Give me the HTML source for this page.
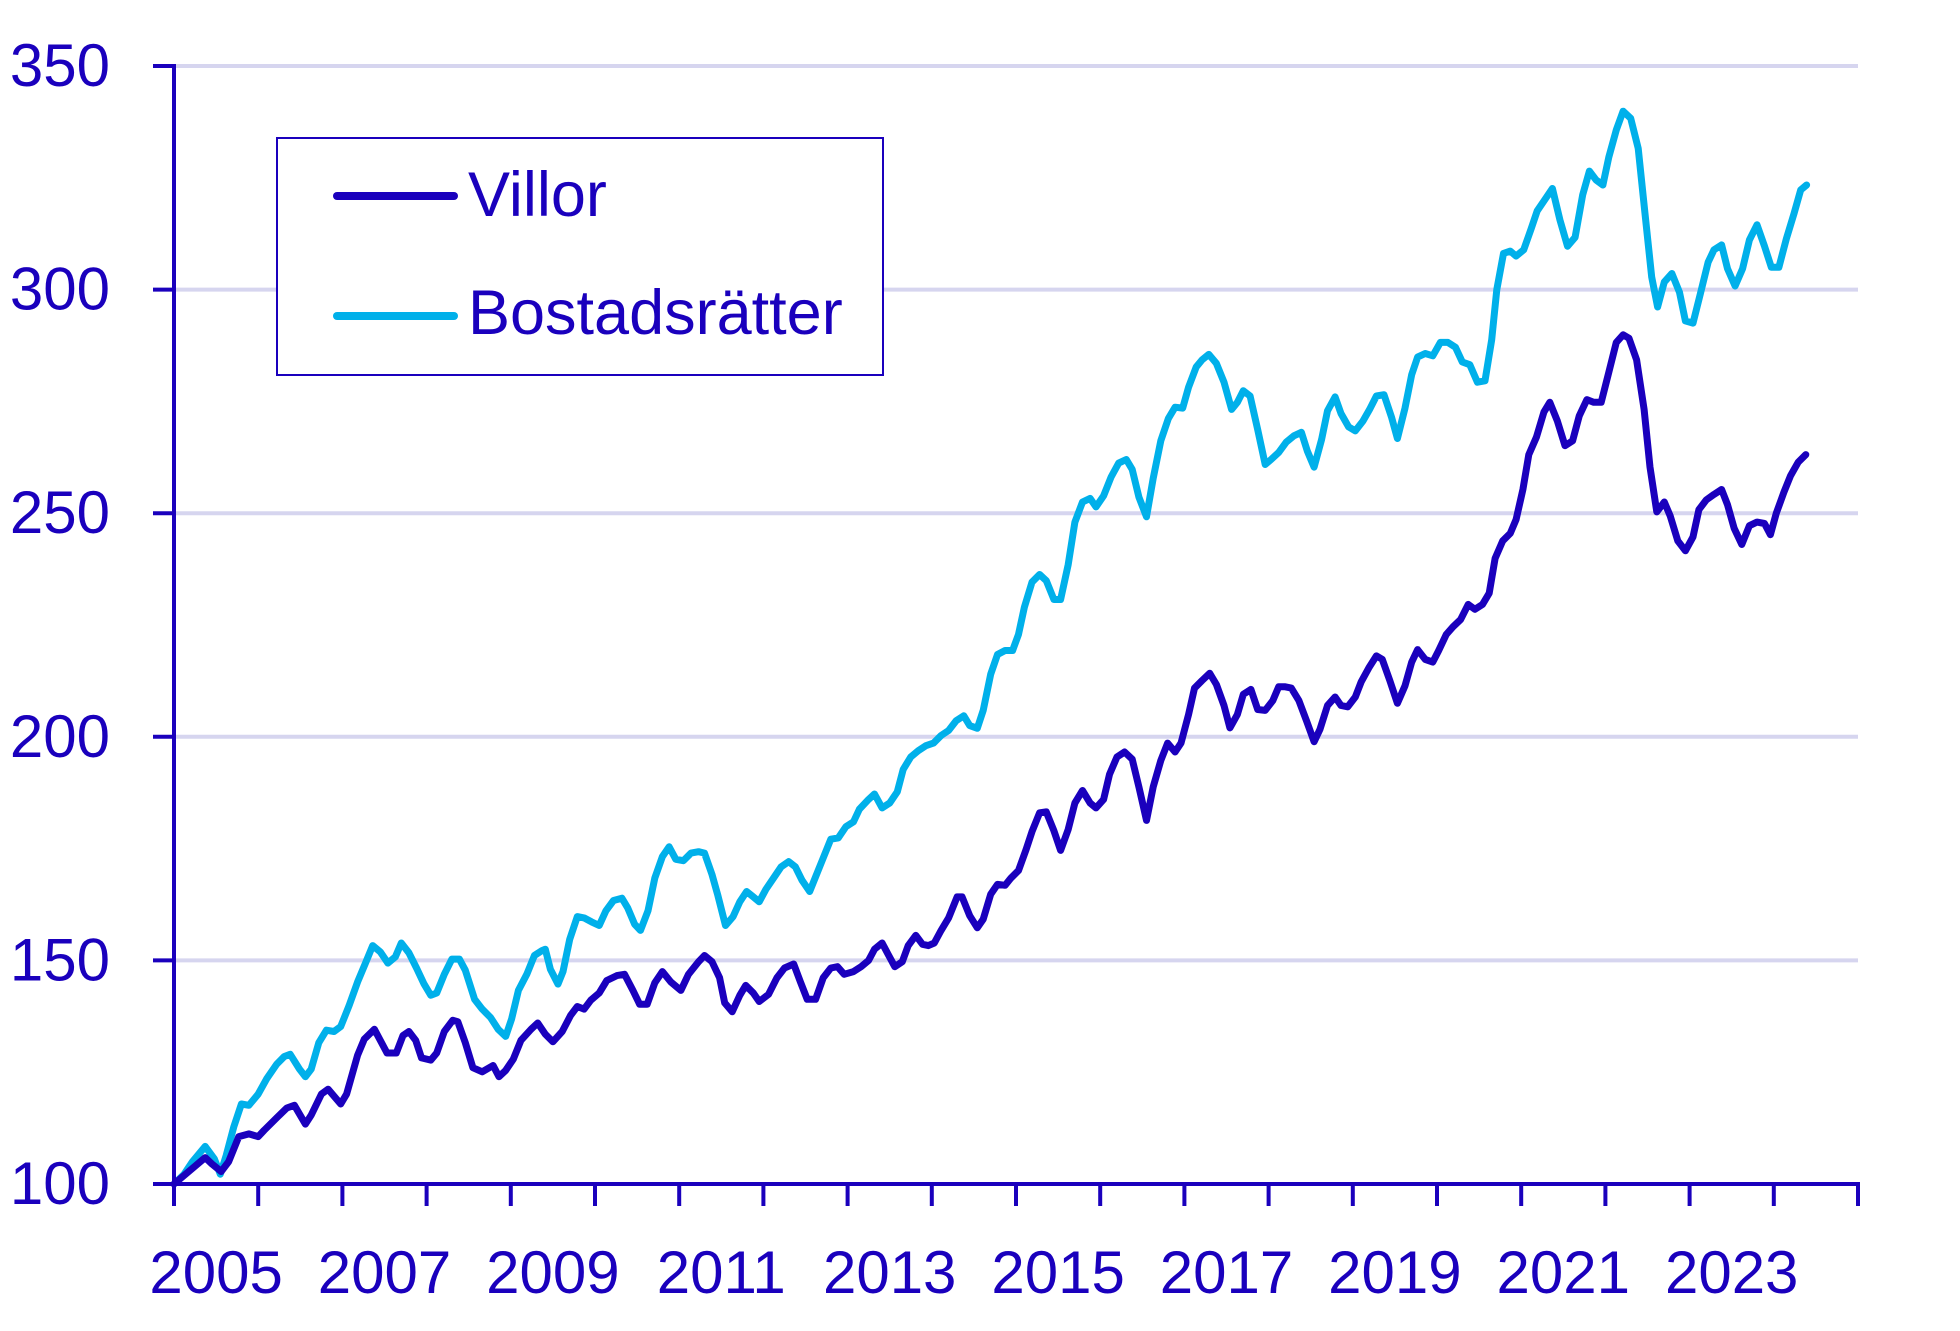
<!DOCTYPE html>
<html><head><meta charset="utf-8"><style>
html,body{margin:0;padding:0;background:#fff;}
svg{display:block;font-family:"Liberation Sans",Arial,sans-serif;}
</style></head><body>
<svg id="chart" width="1960" height="1331" viewBox="0 0 1960 1331" xmlns="http://www.w3.org/2000/svg">
<g id="grid"></g>
<g id="series"></g>
<g id="axes"></g>
<g>
<rect x="277" y="138" width="606" height="237" fill="#fff" stroke="#1a00bd" stroke-width="2"/>
<line x1="337" y1="196" x2="454" y2="196" stroke="#1a00bd" stroke-width="8" stroke-linecap="round"/>
<text x="468" y="216" font-size="63" fill="#1a00bd">Villor</text>
<line x1="337" y1="316" x2="454" y2="316" stroke="#00b0ea" stroke-width="8" stroke-linecap="round"/>
<text x="468" y="334" font-size="63" fill="#1a00bd">Bostadsrätter</text>
</g>
</svg>
<script>
const yTicks=[100,150,200,250,300,350];
const xLabels=[2005,2007,2009,2011,2013,2015,2017,2019,2021,2023];
const villorYears=[2005.00,2005.37,2005.45,2005.56,2005.65,2005.77,2005.89,2006.00,2006.07,2006.22,2006.34,2006.43,2006.56,2006.63,2006.75,2006.83,2006.98,2007.05,2007.18,2007.26,2007.38,2007.45,2007.53,2007.64,2007.72,2007.79,2007.87,2007.94,2008.05,2008.12,2008.21,2008.31,2008.37,2008.46,2008.55,2008.66,2008.79,2008.86,2008.94,2009.03,2009.12,2009.24,2009.32,2009.41,2009.50,2009.61,2009.71,2009.79,2009.87,2009.95,2010.05,2010.14,2010.26,2010.35,2010.45,2010.53,2010.62,2010.71,2010.80,2010.90,2011.02,2011.11,2011.23,2011.30,2011.39,2011.48,2011.54,2011.63,2011.72,2011.79,2011.88,2011.95,2012.06,2012.16,2012.25,2012.36,2012.44,2012.52,2012.62,2012.71,2012.80,2012.88,2012.96,2013.07,2013.16,2013.25,2013.32,2013.41,2013.48,2013.56,2013.65,2013.72,2013.81,2013.89,2013.96,2014.03,2014.11,2014.20,2014.30,2014.36,2014.45,2014.54,2014.61,2014.70,2014.78,2014.87,2014.94,2015.03,2015.12,2015.19,2015.28,2015.36,2015.45,2015.53,2015.62,2015.70,2015.79,2015.88,2015.95,2016.04,2016.11,2016.20,2016.29,2016.38,2016.46,2016.55,2016.63,2016.72,2016.80,2016.89,2016.96,2017.05,2017.12,2017.21,2017.30,2017.38,2017.47,2017.54,2017.63,2017.70,2017.79,2017.87,2017.96,2018.05,2018.12,2018.19,2018.27,2018.36,2018.45,2018.54,2018.61,2018.70,2018.79,2018.86,2018.94,2019.03,2019.10,2019.19,2019.28,2019.35,2019.44,2019.53,2019.62,2019.70,2019.77,2019.86,2019.95,2020.02,2020.11,2020.19,2020.28,2020.37,2020.45,2020.54,2020.62,2020.69,2020.78,2020.87,2020.94,2021.02,2021.09,2021.18,2021.27,2021.34,2021.43,2021.52,2021.61,2021.69,2021.78,2021.86,2021.95,2022.04,2022.13,2022.21,2022.28,2022.37,2022.46,2022.53,2022.61,2022.70,2022.77,2022.86,2022.95,2023.04,2023.11,2023.20,2023.29,2023.38,2023.45,2023.53,2023.62,2023.71,2023.80,2023.89,2023.96,2024.03,2024.12,2024.20,2024.29,2024.38];
const villorValues=[100,105.9,104.5,102.8,105.0,110.6,111.2,110.6,112.0,114.8,117.0,117.6,113.4,115.4,120.1,121.2,117.9,120.1,128.8,132.4,134.6,132.1,129.3,129.3,133.2,134.1,132.1,128.2,127.7,129.3,134.1,136.6,136.3,131.6,126.0,125.1,126.5,124.0,125.4,127.9,132.1,134.6,136.0,133.5,131.8,134.1,137.7,139.7,139.1,141.1,142.7,145.5,146.6,146.9,143.3,140.2,140.2,145.0,147.5,145.2,143.3,146.9,149.7,151.1,149.7,146.1,140.5,138.5,142.2,144.4,142.7,140.8,142.4,146.1,148.3,149.2,145.2,141.3,141.3,146.1,148.3,148.6,146.9,147.5,148.6,150.0,152.5,153.9,151.4,148.6,149.7,153.3,155.6,153.6,153.3,153.9,156.7,159.5,164.2,164.2,160.0,157.3,159.2,164.8,167.0,166.8,168.4,170.1,174.8,178.8,183.0,183.2,179.0,174.6,179.3,185.2,188.0,185.2,184.1,186.0,191.6,195.5,196.6,195.0,188.8,181.3,188.8,194.7,198.6,196.6,198.6,205.0,210.9,212.6,214.2,211.7,207.0,202.0,205.0,209.5,210.6,206.1,205.9,208.1,211.2,211.2,210.9,208.1,203.6,198.9,201.7,207.0,208.9,207.0,206.7,208.9,212.3,215.4,218.1,217.3,212.6,207.5,211.4,216.7,219.5,217.3,216.7,219.3,222.9,224.6,226.2,229.6,228.5,229.6,232.1,239.9,243.8,245.5,248.6,255.3,263.1,267.0,272.6,274.8,270.6,265.1,266.2,271.8,275.4,274.8,274.8,281.5,288.2,289.9,289.1,284.3,273.2,260.3,250.3,252.5,249.4,243.8,241.6,244.7,250.8,253.0,254.2,255.3,251.9,246.6,243.0,247.2,248.0,247.7,245.2,250.0,254.7,258.4,261.4,263.1];
const brfYears=[2005.00,2005.12,2005.22,2005.37,2005.48,2005.55,2005.62,2005.71,2005.80,2005.89,2006.00,2006.10,2006.22,2006.31,2006.38,2006.49,2006.56,2006.63,2006.72,2006.81,2006.90,2006.98,2007.08,2007.18,2007.27,2007.36,2007.45,2007.54,2007.63,2007.70,2007.79,2007.88,2007.97,2008.05,2008.12,2008.21,2008.30,2008.39,2008.46,2008.57,2008.66,2008.76,2008.85,2008.94,2009.01,2009.09,2009.19,2009.28,2009.37,2009.41,2009.47,2009.56,2009.62,2009.70,2009.79,2009.87,2009.96,2010.05,2010.13,2010.22,2010.32,2010.39,2010.47,2010.54,2010.63,2010.71,2010.80,2010.88,2010.96,2011.05,2011.14,2011.23,2011.30,2011.39,2011.46,2011.55,2011.64,2011.72,2011.80,2011.88,2011.95,2012.03,2012.12,2012.21,2012.30,2012.38,2012.46,2012.55,2012.62,2012.71,2012.80,2012.89,2012.98,2013.07,2013.14,2013.25,2013.32,2013.41,2013.50,2013.59,2013.66,2013.75,2013.84,2013.93,2014.02,2014.11,2014.20,2014.29,2014.38,2014.45,2014.54,2014.61,2014.70,2014.78,2014.87,2014.96,2015.03,2015.10,2015.19,2015.28,2015.36,2015.45,2015.53,2015.62,2015.70,2015.79,2015.88,2015.95,2016.04,2016.13,2016.22,2016.31,2016.38,2016.46,2016.55,2016.63,2016.72,2016.81,2016.89,2016.98,2017.05,2017.14,2017.21,2017.29,2017.38,2017.47,2017.56,2017.63,2017.70,2017.78,2017.87,2017.96,2018.03,2018.12,2018.21,2018.30,2018.39,2018.46,2018.54,2018.63,2018.70,2018.79,2018.86,2018.95,2019.03,2019.12,2019.20,2019.28,2019.37,2019.46,2019.53,2019.62,2019.70,2019.77,2019.86,2019.95,2020.04,2020.13,2020.22,2020.30,2020.39,2020.48,2020.57,2020.65,2020.71,2020.79,2020.87,2020.94,2021.03,2021.12,2021.19,2021.28,2021.37,2021.46,2021.55,2021.64,2021.73,2021.81,2021.89,2021.97,2022.04,2022.13,2022.21,2022.30,2022.39,2022.47,2022.55,2022.62,2022.70,2022.79,2022.88,2022.95,2023.04,2023.13,2023.22,2023.29,2023.38,2023.45,2023.54,2023.63,2023.71,2023.80,2023.89,2023.97,2024.06,2024.15,2024.24,2024.32,2024.39];
const brfValues=[100,102.2,105.0,108.4,105.6,102.2,106.4,112.8,117.9,117.6,120.1,123.5,126.8,128.5,129.0,125.7,124.0,125.7,131.6,134.4,134.1,135.2,139.9,145.2,149.2,153.3,151.9,149.4,150.8,153.9,151.7,148.3,144.7,142.2,142.7,146.9,150.3,150.3,147.8,141.3,139.1,137.2,134.6,133.0,136.9,143.3,146.9,151.1,152.2,152.5,148.0,144.7,147.5,154.7,159.8,159.5,158.6,157.8,161.1,163.4,163.9,161.7,158.1,156.7,161.1,168.4,173.2,175.4,172.6,172.3,174.0,174.3,174.0,169.2,164.5,157.8,159.8,163.1,165.4,164.2,163.1,165.9,168.4,170.9,172.1,170.9,167.9,165.4,168.7,172.9,177.1,177.4,179.9,181.0,183.8,186.0,187.2,184.1,185.2,187.7,192.7,195.5,196.9,198.0,198.6,200.3,201.4,203.6,204.7,202.5,201.9,205.9,214.0,218.4,219.3,219.3,222.9,229.0,234.6,236.3,234.9,230.7,230.7,238.5,248.0,252.5,253.3,251.4,253.9,258.1,261.2,262.0,259.8,253.6,249.2,257.8,266.2,271.2,273.7,273.5,278.2,282.7,284.3,285.5,283.5,279.3,273.2,274.8,277.4,276.2,268.7,260.9,262.0,263.6,265.9,267.3,268.1,263.9,260.3,266.5,272.9,276.0,272.3,269.3,268.4,270.6,273.2,276.2,276.5,271.5,266.7,273.5,281.0,284.9,285.7,285.2,288.2,288.2,287.1,283.8,283.2,279.3,279.6,288.8,300.0,308.1,308.6,307.5,308.9,313.7,317.6,320.1,322.6,315.6,309.7,311.7,321.2,326.5,324.5,323.4,329.6,335.7,339.9,338.3,331.6,317.0,302.8,296.1,301.7,303.6,299.4,293.0,292.5,299.2,306.1,308.9,310.0,304.7,300.8,304.7,311.1,314.5,309.7,305.0,305.0,311.4,317.0,322.3,323.4];

const NS="http://www.w3.org/2000/svg";
const X0=174,X1=1858,Y0=1184,Y1=66,T0=2005,T1=2025,V0=100,V1=350;
function xs(t){return X0+(t-T0)*(X1-X0)/(T1-T0);}
function ys(v){return Y0-(v-V0)*(Y0-Y1)/(V1-V0);}
function mk(tag,attrs,parent){const e=document.createElementNS(NS,tag);for(const k in attrs)e.setAttribute(k,attrs[k]);parent.appendChild(e);return e;}
const grid=document.getElementById('grid'),axes=document.getElementById('axes'),series=document.getElementById('series');
const C="#1a00bd";
yTicks.forEach(v=>{
  if(v>V0){const g=mk('line',{x1:X0,x2:X1,y1:ys(v),y2:ys(v),stroke:'#d6d5ef','stroke-width':4},grid);
  
  }
  const tk=mk('line',{x1:X0-21,x2:X0,y1:ys(v),y2:ys(v),stroke:C,'stroke-width':4},axes);
  
  
  const tx=mk('text',{x:110,y:ys(v)+20,'text-anchor':'end','font-size':60,fill:C},axes);
  tx.textContent=v;
  
  
});
const ya=mk('line',{x1:X0,x2:X0,y1:Y1-2,y2:Y0+2,stroke:C,'stroke-width':4},axes);


const xa=mk('line',{x1:X0-2,x2:X1+2,y1:Y0,y2:Y0,stroke:C,'stroke-width':4},axes);


for(let t=T0;t<=T1;t++){
  const tk=mk('line',{x1:xs(t),x2:xs(t),y1:Y0,y2:Y0+22,stroke:C,'stroke-width':4},axes);
  
  
}
xLabels.forEach(t=>{
  const tx=mk('text',{x:xs(t+0.5),y:1293,'text-anchor':'middle','font-size':60,fill:C},axes);
  tx.textContent=t;
  
  
});
function line(ts,vs,color,name){
  const d=ts.map((t,i)=>(i?'L':'M')+xs(t).toFixed(1)+','+ys(vs[i]).toFixed(1)).join('');
  const p=mk('path',{d:d,fill:'none',stroke:color,'stroke-width':7,'stroke-linejoin':'round','stroke-linecap':'round'},series);
  
  
}
line(brfYears,brfValues,'#00b0ea','line-bostadsratter');
line(villorYears,villorValues,C,'line-villor');
</script>
</body></html>
